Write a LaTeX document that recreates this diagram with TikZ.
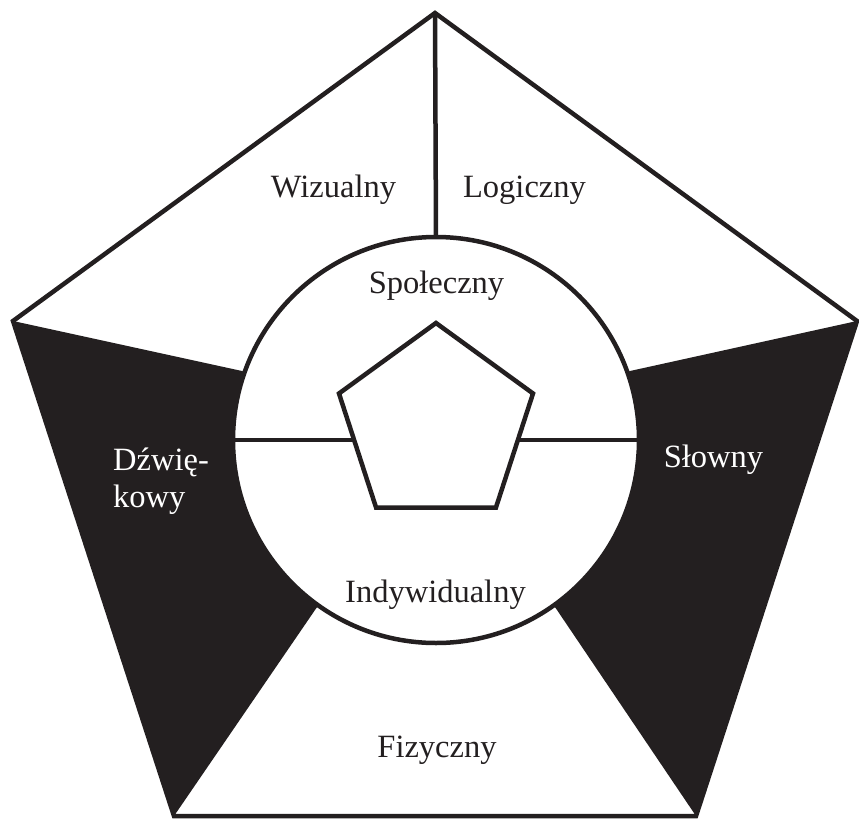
\documentclass[tikz,border=0pt]{standalone}
\usepackage{fontspec}
\setmainfont{Liberation Serif}
\usetikzlibrary{shapes.geometric}
\definecolor{ink}{HTML}{231F20}
\begin{document}
\begin{tikzpicture}[x=1pt,y=-1pt,
  edge/.style={draw=ink,line width=4.5pt,line join=miter},
  lab/.style={font=\fontsize{32.5}{37}\selectfont, text=ink, inner sep=0pt, anchor=base},
  wlab/.style={lab,text=white,anchor=base west}]
\useasboundingbox (0,0) rectangle (859,819);
% outer pentagon vertices
\coordinate (T) at (435,13);
\coordinate (L) at (13,321);
\coordinate (R) at (857,321);
\coordinate (BL) at (174,816);
\coordinate (BR) at (696,816);
\coordinate (C) at (436,440);
\coordinate (UL) at (242,371);
\coordinate (LL) at (315,610);
\coordinate (UR) at (630,371);
\coordinate (LR) at (557,610);
% black sectors
\fill[ink] (L) -- (UL) -- (C) -- (LL) -- (BL) -- cycle;
\fill[ink] (R) -- (UR) -- (C) -- (LR) -- (BR) -- cycle;
% outer outline
\draw[edge] (T) -- (L) -- (BL) -- (BR) -- (R) -- cycle;
% circle
\node[circle, edge, fill=white, minimum size=406pt, inner sep=0pt, outer sep=0pt] (circ) at (C) {};
\draw[edge] (T) -- (circ.north);
\draw[edge] (circ.west) -- (circ.east);
% inner pentagon
\node[regular polygon, regular polygon sides=5, edge, fill=white, minimum size=204pt, inner sep=0pt] (pent) at (436,425) {};
% labels
\node[lab] (wiz) at (333.5,197) {Wizualny};
\node[lab] (log) at (524.5,197) {Logiczny};
\node[lab] (spo) at (436.5,293) {Społeczny};
\node[lab] (ind) at (435.5,602) {Indywidualny};
\node[lab] (fiz) at (437,757) {Fizyczny};
\node[wlab,anchor=base] (slo) at (713.5,467) {Słowny};
\node[wlab] (dzw1) at (113,470) {Dźwię-};
\node[wlab] (dzw2) at (113,507) {kowy};
\end{tikzpicture}
\end{document}
